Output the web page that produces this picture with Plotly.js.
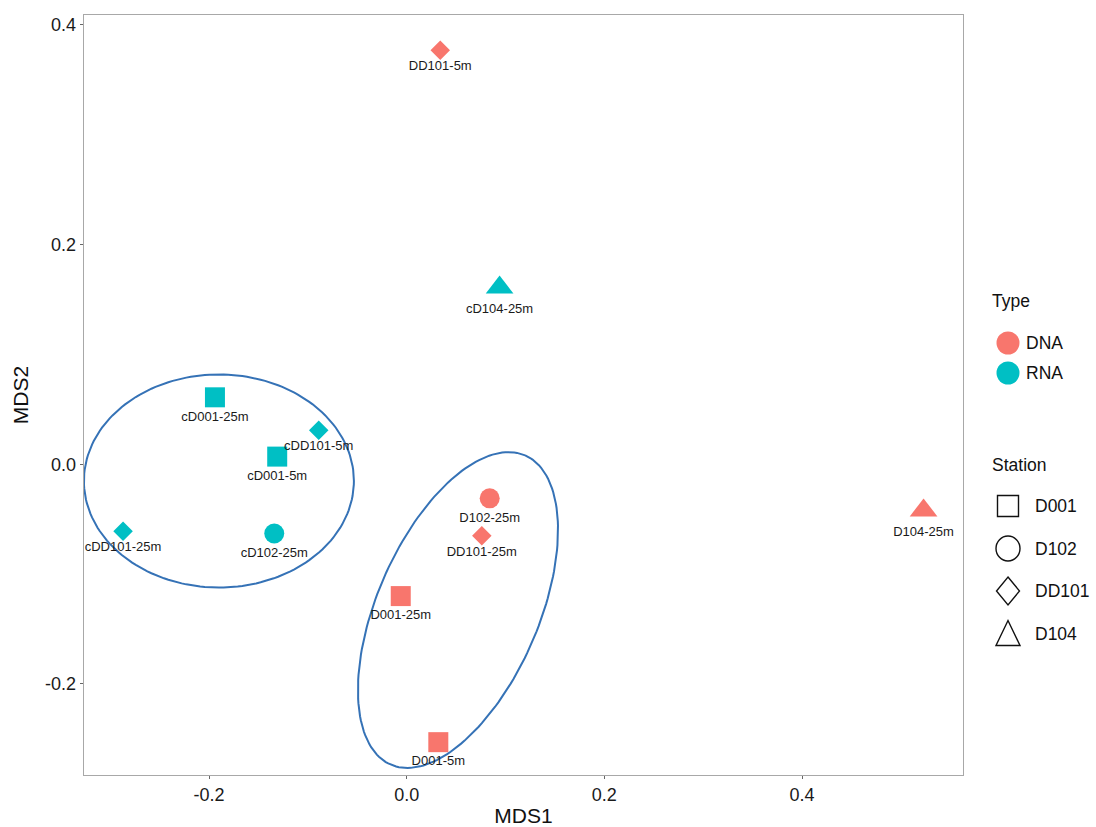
<!DOCTYPE html>
<html>
<head>
<meta charset="utf-8">
<script src="https://cdn.plot.ly/plotly-3.0.1.min.js"></script>
<style>html,body{margin:0;padding:0;background:#fff;}#chart{width:1096px;height:827px;}</style>
</head>
<body>
<div id="chart"></div>
<script>
// ---- data ----
const sampleLabels = ['DD101-5m','cD104-25m','cD001-25m','cDD101-5m','cD001-5m','cDD101-25m','cD102-25m','D102-25m','DD101-25m','D001-25m','D001-5m','D104-25m'];
const mds1 = [0.034, 0.094, -0.194, -0.089, -0.131, -0.287, -0.134, 0.084, 0.076, -0.006, 0.032, 0.523];
const mds2 = [0.377, 0.161, 0.061, 0.031, 0.007, -0.061, -0.063, -0.031, -0.065, -0.120, -0.253, -0.042];
const sampleType = ['DNA','RNA','RNA','RNA','RNA','RNA','RNA','DNA','DNA','DNA','DNA','DNA'];
const sampleStation = ['DD101','D104','D001','DD101','D001','DD101','D102','D102','DD101','D001','D001','D104'];

const typeLevels = ['DNA','RNA'];
const stationLevels = ['D001','D102','DD101','D104'];
const xTickVals = [-0.2, 0.0, 0.2, 0.4];
const xTickText = ['-0.2','0.0','0.2','0.4'];
const yTickVals = [-0.2, 0.0, 0.2, 0.4];
const yTickText = ['-0.2','0.0','0.2','0.4'];

// ellipses (centre, semi-axis vectors) in data units
const ellipseCx = [-0.190, 0.0519];
const ellipseCy = [-0.0152, -0.1327];
const ellipseAx = [0.1366, 0.0680];
const ellipseAy = [0.0, 0.1408];
const ellipseBx = [0.0, -0.0750];
const ellipseBy = [0.097, 0.0293];

// ---- styles ----
const typeColor = {DNA:'#F8766D', RNA:'#00BFC4'};
const stationSymbol = {D001:'square', D102:'circle', DD101:'diamond', D104:'triangle-up'};
const stationSize = {D001:20, D102:20, DD101:15, D104:24};
const FONT = 'Liberation Sans, Arial, sans-serif';

const traces = [];
// ellipses
for (let e = 0; e < ellipseCx.length; e++) {
  const ex = [], ey = [];
  const n = 180;
  for (let i = 0; i <= n; i++) {
    const t = 2 * Math.PI * i / n;
    ex.push(ellipseCx[e] + ellipseAx[e] * Math.cos(t) + ellipseBx[e] * Math.sin(t));
    ey.push(ellipseCy[e] + ellipseAy[e] * Math.cos(t) + ellipseBy[e] * Math.sin(t));
  }
  traces.push({x: ex, y: ey, mode: 'lines', type: 'scatter', showlegend: false, hoverinfo: 'skip',
    line: {color: '#3572B6', width: 2}});
}
// points
traces.push({
  x: mds1, y: mds2, text: sampleLabels, type: 'scatter', mode: 'markers+text',
  textposition: 'bottom center', showlegend: false,
  textfont: {family: FONT, size: 13, color: '#1a1a1a'},
  marker: {
    color: sampleType.map(t => typeColor[t]),
    symbol: sampleStation.map(s => stationSymbol[s]),
    size: sampleStation.map(s => stationSize[s]),
    opacity: 1,
    line: {width: 0}
  }
});

// ---- manual legend (paper coords from pixel helper) ----
const M = {l:84, r:133, t:15, b:52};
const W = 1096 - M.l - M.r, H = 827 - M.t - M.b;
const px = X => (X - M.l) / W;
const py = Y => (827 - M.b - Y) / H;

const shapes = [];
const annotations = [];
function legendText(txt, X, Y) {
  annotations.push({xref:'paper', yref:'paper', x: px(X), y: py(Y), text: txt, showarrow:false,
    xanchor:'left', yanchor:'middle', font:{family: FONT, size: 17.5, color:'#111'}});
}
function pixShape(X, Y, obj) {
  return Object.assign({xref:'paper', yref:'paper', xsizemode:'pixel', ysizemode:'pixel',
    xanchor: px(X), yanchor: py(Y)}, obj);
}
legendText('Type', 990, 301);
typeLevels.forEach((t, i) => {
  const Y = 343 + i * 30;
  shapes.push(pixShape(1008, Y, {type:'circle', x0:-11.5, x1:11.5, y0:-11.5, y1:11.5,
    fillcolor: typeColor[t], line:{width:0}}));
  legendText(t, 1024, Y);
});
legendText('Station', 990, 465);
const legendPaths = {
  D001: 'M-10.5,-10.5 L10.5,-10.5 L10.5,10.5 L-10.5,10.5 Z',
  D102: null,
  DD101: 'M0,14 L11.5,0 L0,-14 L-11.5,0 Z',
  D104: 'M-12,-12 L12,-12 L0,13 Z'
};
stationLevels.forEach((s, i) => {
  const Y = 506 + i * 42.5;
  const X = 1008;
  if (s === 'D102') {
    shapes.push(pixShape(X, Y, {type:'circle', x0:-12, x1:12, y0:-12.5, y1:12.5,
      fillcolor:'rgba(0,0,0,0)', line:{color:'#111', width:1.4}}));
  } else {
    shapes.push(pixShape(X, Y, {type:'path', path: legendPaths[s],
      fillcolor:'rgba(0,0,0,0)', line:{color:'#111', width:1.4}}));
  }
  legendText(s, 1033, Y);
});

const axisCommon = {
  showgrid:false, zeroline:false, showline:true, mirror:true,
  linecolor:'#a8a8a8', linewidth:1.4, ticks:'outside', ticklen:3, tickcolor:'#666', tickwidth:1,
  tickfont:{family: FONT, size:18, color:'#1a1a1a'}
};
const layout = {
  width:1096, height:827, margin:M, paper_bgcolor:'#fff', plot_bgcolor:'#fff',
  showlegend:false,
  xaxis: Object.assign({}, axisCommon, {range:[-0.3265, 0.5629], tickvals:xTickVals, ticktext:xTickText,
    title:{text:'MDS1', font:{family: FONT, size:21, color:'#111'}, standoff:6}}),
  yaxis: Object.assign({}, axisCommon, {range:[-0.2829, 0.4091], tickvals:yTickVals, ticktext:yTickText,
    title:{text:'MDS2', font:{family: FONT, size:21, color:'#111'}, standoff:10}}),
  shapes: shapes, annotations: annotations
};
Plotly.newPlot('chart', traces, layout, {staticPlot:true});
</script>
</body>
</html>
